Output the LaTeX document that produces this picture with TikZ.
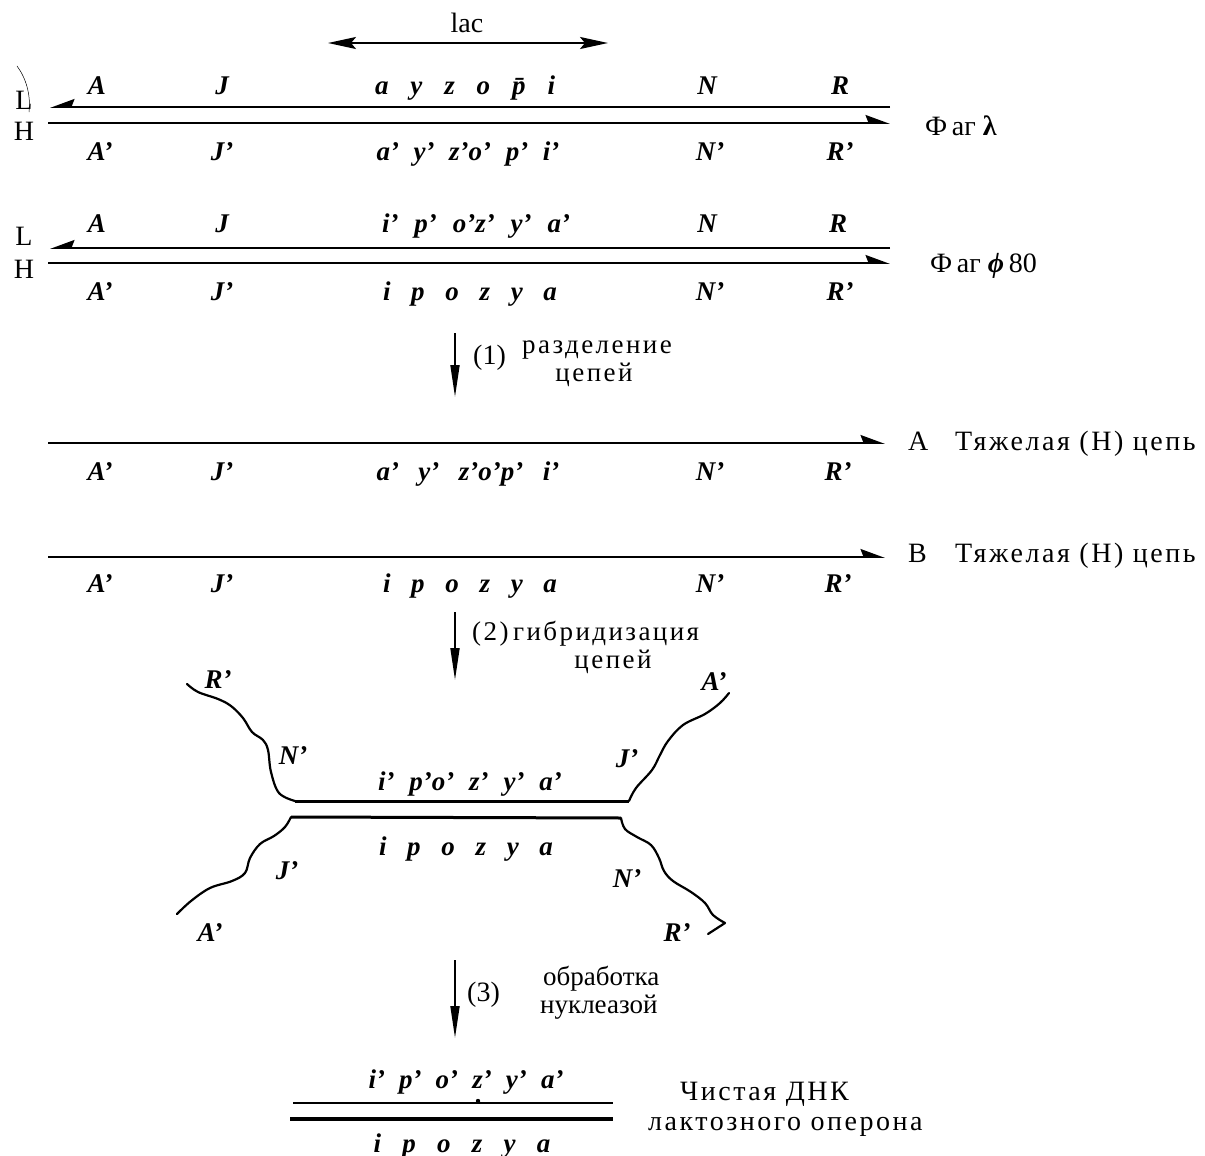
\documentclass[tikz,border=0pt]{standalone}
\usepackage{fontspec}
\setmainfont{Liberation Serif}
\newfontfamily\spfont[LetterSpace=9]{Liberation Serif}
\usetikzlibrary{arrows.meta}
\newcommand\gns[2]{\makebox[#1][s]{#2}}
\begin{document}
\begin{tikzpicture}[x=1pt,y=-1pt,
  lab/.style={font=\fontsize{27}{29}\selectfont\bfseries\itshape, anchor=base, inner sep=0pt},
  up/.style={font=\fontsize{28}{30}\selectfont, anchor=base, inner sep=0pt},
  txt/.style={font=\fontsize{28}{30}\selectfont, anchor=base west, inner sep=0pt},
  stxt/.style={font=\fontsize{27}{29}\selectfont\spfont, anchor=base west, inner sep=0pt},
  strand/.style={line width=1.8pt},
  hyb/.style={line width=3pt},
  tail/.style={line width=2.2pt, line join=round, line cap=round},
  harp/.style={-{Stealth[harpoon,swap,length=22pt,width=16pt,inset=3pt]}},
  harpb/.style={-{Stealth[harpoon,length=22pt,width=16pt,inset=3pt]}},
  vstep/.style={line width=1.8pt, -{Triangle[length=32pt,width=9pt]}},
  lacarr/.style={line width=2pt, {Stealth[length=28pt,width=12pt,inset=5pt]}-{Stealth[length=28pt,width=12pt,inset=5pt]}}
]
\useasboundingbox (0,0) rectangle (1205,1156);
% lac arrow
\coordinate (lacL) at (328,43);
\coordinate (lacR) at (608,43);
\draw[lacarr] (lacL) -- (lacR);
\node[up] (lac) at (467,33) {lac};
% ---------------- phage lambda
\coordinate (r1tR) at (890,107); \coordinate (r1tL) at (50,107);
\coordinate (r1bL) at (48,123); \coordinate (r1bR) at (890,123);
\draw[strand,harp] (r1tR) -- (r1tL);
\draw[strand,harpb] (r1bL) -- (r1bR);
\draw[line width=0.5pt] (17,66) .. controls (26,78) and (31,95) .. (29,112);
\node[up] (L1) at (24,110) {L};
\node[up] (H1) at (24,140) {H};
\node[lab] (A1) at (97,95) {A};
\node[lab] (J1) at (222,95) {J};
\node[lab] (g1) at (465,95) {\gns{180pt}{a y z o \={p} i}};
\node[lab] (N1) at (707,95) {N};
\node[lab] (R1) at (840,95) {R};
\node[lab] (A1b) at (100,160) {A’};
\node[lab] (J1b) at (222,160) {J’};
\node[lab] (g1b) at (468,160) {\gns{183pt}{a’ y’ z’o’ p’ i’}};
\node[lab] (N1b) at (710,160) {N’};
\node[lab] (R1b) at (840,160) {R’};
\node[txt] (ph1) at (925,135) {Ф\,аг \textbf{λ}};
% ---------------- phage phi80
\coordinate (r2tR) at (890,248); \coordinate (r2tL) at (50,248);
\coordinate (r2bL) at (48,263); \coordinate (r2bR) at (890,263);
\draw[strand,harp] (r2tR) -- (r2tL);
\draw[strand,harpb] (r2bL) -- (r2bR);
\node[up] (L2) at (24,245) {L};
\node[up] (H2) at (24,278) {H};
\node[lab] (A2) at (97,232) {A};
\node[lab] (J2) at (222,232) {J};
\node[lab] (g2) at (476,232) {\gns{188pt}{i’ p’ o’z’ y’ a’}};
\node[lab] (N2) at (707,232) {N};
\node[lab] (R2) at (838,232) {R};
\node[lab] (A2b) at (100,300) {A’};
\node[lab] (J2b) at (222,300) {J’};
\node[lab] (g2b) at (470,300) {\gns{174pt}{i p o z y a}};
\node[lab] (N2b) at (710,300) {N’};
\node[lab] (R2b) at (840,300) {R’};
\node[txt] (ph2) at (930,272) {Ф\,аг \textbf{\textit{ϕ}}\,80};
% ---------------- step 1
\coordinate (s1a) at (455,333); \coordinate (s1b) at (455,397);
\draw[vstep] (s1a) -- (s1b);
\node[txt] (s1n) at (473,364) {(1)};
\node[stxt] (s1t) at (522,353) {разделение};
\node[stxt,anchor=base] (s1u) at (594,381) {цепей};
% ---------------- strand A
\coordinate (rAL) at (48,443); \coordinate (rAR) at (885,443);
\draw[strand,harpb] (rAL) -- (rAR);
\node[lab] (AA) at (100,480) {A’};
\node[lab] (JA) at (222,480) {J’};
\node[lab] (gA) at (468,480) {\gns{183pt}{a’ y’ z’o’p’ i’}};
\node[lab] (NA) at (710,480) {N’};
\node[lab] (RA) at (838,480) {R’};
\node[txt] (tAl) at (908,450) {A};
\node[stxt,font=\fontsize{28}{30}\selectfont\spfont] (tA) at (955,450) {Тяжелая (Н) цепь};
% ---------------- strand B
\coordinate (rBL) at (48,557); \coordinate (rBR) at (885,557);
\draw[strand,harpb] (rBL) -- (rBR);
\node[lab] (AB) at (100,592) {A’};
\node[lab] (JB) at (222,592) {J’};
\node[lab] (gB) at (470,592) {\gns{174pt}{i p o z y a}};
\node[lab] (NB) at (710,592) {N’};
\node[lab] (RB) at (838,592) {R’};
\node[txt] (tBl) at (908,562) {B};
\node[stxt,font=\fontsize{28}{30}\selectfont\spfont] (tB) at (955,562) {Тяжелая (Н) цепь};
% ---------------- step 2
\coordinate (s2a) at (455,612); \coordinate (s2b) at (455,680);
\draw[vstep] (s2a) -- (s2b);
\node[stxt] (s2t) at (472,640) {(2)\,гибридизация};
\node[stxt,anchor=base] (s2u) at (613,668) {цепей};
% ---------------- hybrid
\coordinate (hu1) at (295,801); \coordinate (hu2) at (629,801);
\coordinate (hl1) at (291,817); \coordinate (hl2) at (621,818);
\draw[hyb] (hu1) -- (hu2);
\draw[hyb] (hl1) -- (hl2);
\draw[tail] plot[smooth,tension=0.6] coordinates {(187,684) (198,692) (218,699) (231,706) (243,718) (252,732) (263,740) (268,750) (271,772) (279,793) (295,801)};
\draw[tail] plot[smooth,tension=0.6] coordinates {(629,801) (636,788) (652,770) (660,755) (668,741) (683,725) (705,714) (720,703) (729,693)};
\draw[tail] plot[smooth,tension=0.6] coordinates {(291,817) (285,827) (274,836) (260,844) (250,858) (245,873) (232,881) (210,888) (191,901) (177,914)};
\draw[tail] plot[smooth,tension=0.6] coordinates {(621,818) (625,829) (637,837) (651,845) (659,858) (664,871) (673,881) (691,892) (705,903) (713,915) (725,923)} -- (708,934);
\node[lab] (hR1) at (218,688) {R’};
\node[lab] (hN1) at (293,764) {N’};
\node[lab] (hg1) at (470,790) {\gns{184pt}{i’ p’o’ z’ y’ a’}};
\node[lab] (hJ1) at (627,767) {J’};
\node[lab] (hA1) at (714,690) {A’};
\node[lab] (hg2) at (466,855) {\gns{174pt}{i p o z y a}};
\node[lab] (hJ2) at (287,879) {J’};
\node[lab] (hN2) at (627,887) {N’};
\node[lab] (hA2) at (210,941) {A’};
\node[lab] (hR2) at (677,941) {R’};
% ---------------- step 3
\coordinate (s3a) at (455,960); \coordinate (s3b) at (455,1038);
\draw[vstep] (s3a) -- (s3b);
\node[txt] (s3n) at (467,1001) {(3)};
\node[txt,font=\fontsize{27}{29}\selectfont] (s3t) at (543,985) {обработка};
\node[txt,font=\fontsize{27}{29}\selectfont] (s3u) at (540,1013) {нуклеазой};
% ---------------- final
\coordinate (fu1) at (293,1103); \coordinate (fu2) at (613,1103);
\coordinate (fl1) at (290,1119); \coordinate (fl2) at (613,1119);
\draw[line width=2.6pt] (fu1) -- (fu2);
\draw[line width=3.4pt] (fl1) -- (fl2);
\fill (478,1101) circle (2.2pt);
\node[lab] (fg1) at (466,1088) {\gns{195pt}{i’ p’ o’ z’ y’ a’}};
\node[lab] (fg2) at (462,1152) {\gns{177pt}{i p o z y a}};
\node[stxt,font=\fontsize{28}{30}\selectfont\spfont] (f1) at (680,1100) {Чистая ДНК};
\node[stxt,font=\fontsize{28}{30}\selectfont\spfont] (f2) at (648,1130) {лактозного оперона};
\end{tikzpicture}
\end{document}
